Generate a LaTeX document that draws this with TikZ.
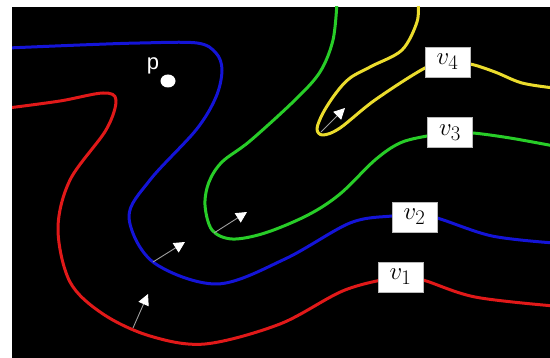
\documentclass[tikz,border=0pt]{standalone}
\usepackage{fontspec}
\setsansfont{Liberation Sans}
\usetikzlibrary{arrows.meta}
\definecolor{cred}{RGB}{225,25,25}
\definecolor{cblue}{RGB}{20,20,215}
\definecolor{cgreen}{RGB}{40,205,40}
\definecolor{cyellow}{RGB}{235,220,45}
\tikzset{
  contour/.style={line width=3pt, line cap=round, line join=round},
  vbox/.style={fill=white, draw=gray!55, line width=0.8pt, minimum width=45pt, minimum height=30pt, inner sep=0pt,
    font=\fontsize{30}{30}\selectfont},
  normalarrow/.style={draw=gray!75, line width=0.9pt, -{Triangle[length=11pt,width=11pt,fill=white,color=white]}},
}
\begin{document}
\begin{tikzpicture}[x=1pt,y=-1pt]
\useasboundingbox (0,0) rectangle (550,358);
\fill[white] (0,0) rectangle (550,358);
\fill[black] (12,7) rectangle (550,358);
\begin{scope}
\clip (12,7) rectangle (550,358);
% red
\draw[contour, cred] plot[smooth, tension=0.55] coordinates {(8,108) (60,101) (103,93) (116,100) (106,130) (70,180) (58,229) (70,282) (103,314) (150,336) (205,344) (280,324) (345,290) (400,277) (423,280) (475,297) (554,306)};
% blue
\draw[contour, cblue] plot[smooth, tension=0.55] coordinates {(8,48) (80,45) (140,43) (197,43) (216,53) (222,70) (216,97) (196,130) (150,180) (129,217) (153,262) (217,284) (285,259) (350,223) (392,216) (414,215) (437,218) (492,236) (554,243)};
% green
\draw[contour, cgreen] plot[smooth, tension=0.55] coordinates {(337,2) (333,40) (320,72) (295,100) (250,141) (222,162) (209,182) (205,205) (212,230) (232,239) (265,233) (308,215) (340,194) (375,160) (400,143) (427,136) (450,133) (473,133) (510,138) (554,146)};
% yellow
\draw[contour, cyellow] plot[smooth, tension=0.55] coordinates {(418,2) (417,22) (402,50) (372,66) (350,78) (336,93) (323,113) (317,129) (323,135) (340,128) (375,100) (425,68) (447,63) (470,64) (495,72) (522,83) (554,88)};
\end{scope}
% normal arrows
\coordinate (r0) at (133,328); \coordinate (r1) at (148,294);
\coordinate (b0) at (153,262); \coordinate (b1) at (185,242);
\coordinate (g0) at (214,233); \coordinate (g1) at (247,212);
\coordinate (y0) at (321,132); \coordinate (y1) at (345,108);
\draw[normalarrow] (r0) -- (r1);
\draw[normalarrow] (b0) -- (b1);
\draw[normalarrow] (g0) -- (g1);
\draw[normalarrow] (y0) -- (y1);
% labels
\node[vbox] (v1) at (400.5,277) {$v_1$};
\node[vbox] (v2) at (414.5,217) {$v_2$};
\node[vbox] (v3) at (450,132.5) {$v_3$};
\node[vbox] (v4) at (447.5,62) {$v_4$};
% point p
\fill[white] (168,81) ellipse [x radius=7.5, y radius=6.5];
\node[text=white, font=\sffamily\fontsize{22}{22}\selectfont, anchor=base, inner sep=0pt] (p) at (153,70) {p};
\end{tikzpicture}
\end{document}
